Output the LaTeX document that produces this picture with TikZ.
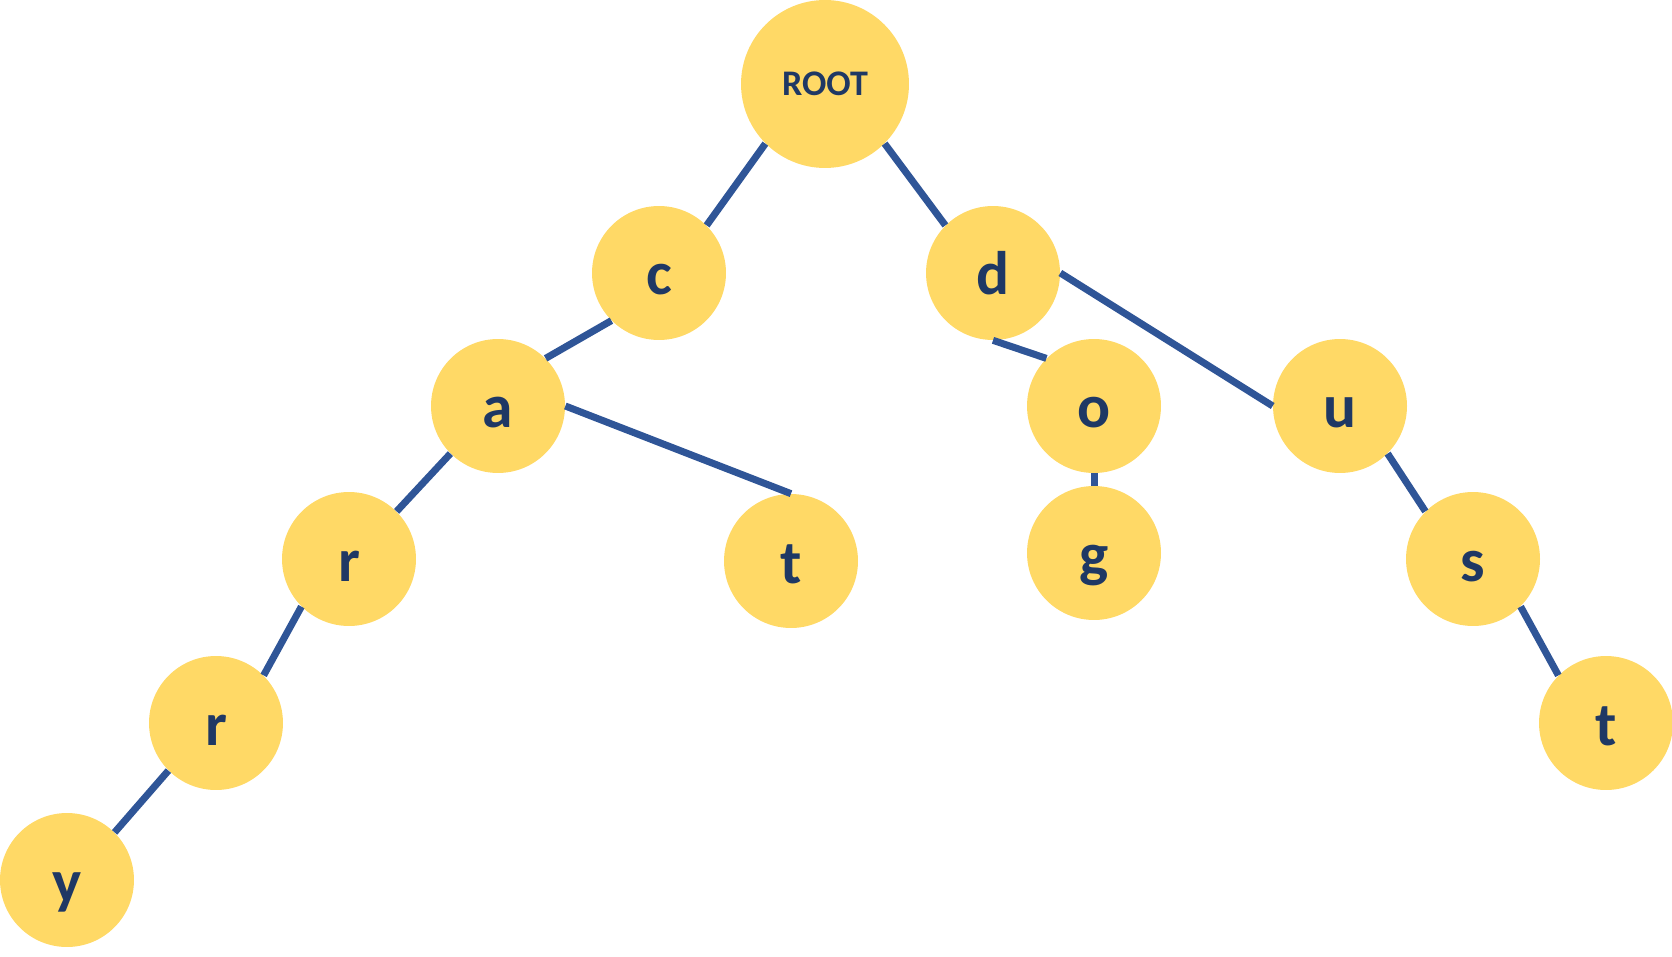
\documentclass[tikz,border=0pt]{standalone}
\usepackage{fontspec}
\setmainfont{Carlito}
\usepackage{xcolor}
\usetikzlibrary{positioning}

\definecolor{gold}{HTML}{FFD966}
\definecolor{navy}{HTML}{1F3864}
\definecolor{edgeblue}{HTML}{2F5597}

\begin{document}
\begin{tikzpicture}[x=0.02cm, y=-0.02cm,
    letter/.style={circle, fill=gold, text=navy, inner sep=0pt,
      minimum size=2.68cm, font=\fontsize{35}{35}\selectfont\bfseries,
      text height=0.9cm, text depth=0.02cm},
    rootnode/.style={letter, minimum size=3.36cm,
      font=\fontsize{20.5}{21}\selectfont\bfseries,
      text height=, text depth=},
    link/.style={edgeblue, line width=4pt}]
  \useasboundingbox (0,0) rectangle (1672,956);
  % nodes
  \node[rootnode] (root) at (825,84) {ROOT};
  \node[letter] (c)     at (659,273)  {c};
  \node[letter] (d)     at (993,273)  {d};
  \node[letter] (ca)    at (498,406)  {a};
  \node[letter] (do)    at (1094,406) {o};
  \node[letter] (du)    at (1340,406) {u};
  \node[letter] (car)   at (349,559)  {r};
  \node[letter] (cat)   at (791,561)  {t};
  \node[letter] (dog)   at (1094,553) {g};
  \node[letter] (dus)   at (1473,559) {s};
  \node[letter] (carr)  at (216,723)  {r};
  \node[letter] (dust)  at (1606,723) {t};
  \node[letter] (carry) at (67,880)   {y};
  % links
  \draw[link] (root.south west) -- (c.north east);
  \draw[link] (root.south east) -- (d.north west);
  \draw[link] (c.south west) -- (ca.north east);
  \draw[link] (ca.south west) -- (car.north east);
  \draw[link] (car.south west) -- (carr.north east);
  \draw[link] (carr.south west) -- (carry.north east);
  \draw[link] (ca.east) -- (cat.north);
  \draw[link] (d.south) -- (do.north west);
  \draw[link] (d.east) -- (du.west);
  \draw[link] (do.south) -- (dog.north);
  \draw[link] (du.south east) -- (dus.north west);
  \draw[link] (dus.south east) -- (dust.north west);
\end{tikzpicture}
\end{document}
